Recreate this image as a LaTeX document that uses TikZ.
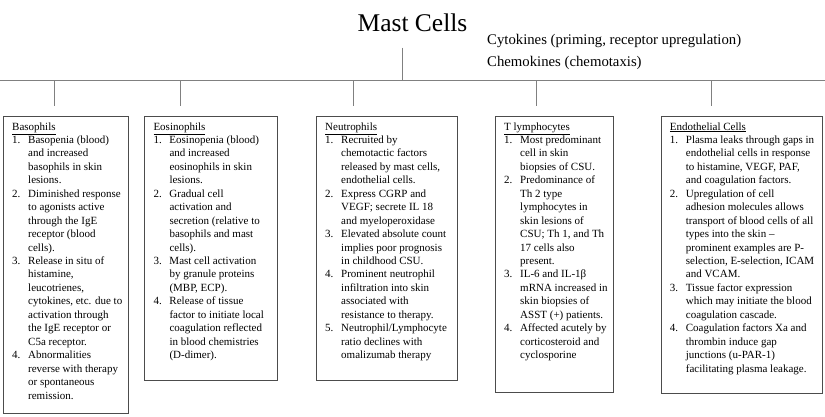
\documentclass[tikz,border=0pt]{standalone}
\usepackage{fontspec}
\setmainfont{Liberation Serif}
\newcommand\itemno[1]{\makebox[16pt][l]{#1}}
\newcommand\cont{\hspace*{16pt}}
\begin{document}
\begin{tikzpicture}[x=1pt,y=-1pt,
  box/.style={draw=black!70, line width=0.8pt, anchor=north west, inner sep=0pt},
  conn/.style={draw=black!50, line width=0.8pt},
  body/.style={anchor=north west, align=left, inner sep=0pt, font=\fontsize{11}{13.45}\selectfont},
  side/.style={anchor=base west, inner sep=0pt, font=\fontsize{14.75}{18}\selectfont}]
\useasboundingbox (0,0) rectangle (825,416);

% title and side texts
\node[anchor=base, inner sep=0pt, font=\fontsize{25.5}{30}\selectfont] (mast) at (412.5,31.7) {Mast Cells};
\node[side] (cyto) at (487,44.5) {Cytokines (priming, receptor upregulation)};
\node[side] (chemo) at (487,66.5) {Chemokines (chemotaxis)};

% boxes
\node[box, minimum width=125.3pt, minimum height=297.3pt] (b1) at (3,115.7) {};
\node[box, minimum width=132.4pt, minimum height=264.3pt] (b2) at (144.3,115.7) {};
\node[box, minimum width=140.7pt, minimum height=264.3pt] (b3) at (316,115.7) {};
\node[box, minimum width=118pt, minimum height=276.3pt] (b4) at (495,115.7) {};
\node[box, minimum width=161pt, minimum height=277.3pt] (b5) at (660.7,115.7) {};

% connectors
\coordinate (mcb) at (402.7,47.7);
\coordinate (bus) at (402.7,80.5);
\coordinate (busL) at (0,80.5);
\coordinate (busR) at (825,80.5);
\coordinate (d1) at (54.3,106);
\coordinate (d2) at (180.3,106);
\coordinate (d3) at (353.3,106);
\coordinate (d4) at (536.3,106);
\coordinate (d5) at (711,106);
\draw[conn] (mcb) -- (bus);
\draw[conn] (busL) -- (busR);
\foreach \d in {d1,d2,d3,d4,d5}{\draw[conn] (\d |- bus) -- (\d);}

% texts
\node[body] (t1) at ([xshift=9pt,yshift=-6.5pt]b1.north west) {%
\underline{Basophils}\\
\itemno{1.}Basopenia (blood)\\
\cont and increased\\
\cont basophils in skin\\
\cont lesions.\\
\itemno{2.}Diminished response\\
\cont to agonists active\\
\cont through the IgE\\
\cont receptor (blood\\
\cont cells).\\
\itemno{3.}Release in situ of\\
\cont histamine,\\
\cont leucotrienes,\\
\cont cytokines, etc. due to\\
\cont activation through\\
\cont the IgE receptor or\\
\cont C5a receptor.\\
\itemno{4.}Abnormalities\\
\cont reverse with therapy\\
\cont or spontaneous\\
\cont remission.};

\node[body] (t2) at ([xshift=9pt,yshift=-6.5pt]b2.north west) {%
\underline{Eosinophils}\\
\itemno{1.}Eosinopenia (blood)\\
\cont and increased\\
\cont eosinophils in skin\\
\cont lesions.\\
\itemno{2.}Gradual cell\\
\cont activation and\\
\cont secretion (relative to\\
\cont basophils and mast\\
\cont cells).\\
\itemno{3.}Mast cell activation\\
\cont by granule proteins\\
\cont (MBP, ECP).\\
\itemno{4.}Release of tissue\\
\cont factor to initiate local\\
\cont coagulation reflected\\
\cont in blood chemistries\\
\cont (D-dimer).};

\node[body] (t3) at ([xshift=9pt,yshift=-6.5pt]b3.north west) {%
\underline{Neutrophils}\\
\itemno{1.}Recruited by\\
\cont chemotactic factors\\
\cont released by mast cells,\\
\cont endothelial cells.\\
\itemno{2.}Express CGRP and\\
\cont VEGF; secrete IL 18\\
\cont and myeloperoxidase\\
\itemno{3.}Elevated absolute count\\
\cont implies poor prognosis\\
\cont in childhood CSU.\\
\itemno{4.}Prominent neutrophil\\
\cont infiltration into skin\\
\cont associated with\\
\cont resistance to therapy.\\
\itemno{5.}Neutrophil/Lymphocyte\\
\cont ratio declines with\\
\cont omalizumab therapy};

\node[body] (t4) at ([xshift=9pt,yshift=-6.5pt]b4.north west) {%
\underline{T lymphocytes}\\
\itemno{1.}Most predominant\\
\cont cell in skin\\
\cont biopsies of CSU.\\
\itemno{2.}Predominance of\\
\cont Th 2 type\\
\cont lymphocytes in\\
\cont skin lesions of\\
\cont CSU; Th 1, and Th\\
\cont 17 cells also\\
\cont present.\\
\itemno{3.}IL-6 and IL-1β\\
\cont mRNA increased in\\
\cont skin biopsies of\\
\cont ASST (+) patients.\\
\itemno{4.}Affected acutely by\\
\cont corticosteroid and\\
\cont cyclosporine};

\node[body] (t5) at ([xshift=9pt,yshift=-6.5pt]b5.north west) {%
\underline{Endothelial Cells}\\
\itemno{1.}Plasma leaks through gaps in\\
\cont endothelial cells in response\\
\cont to histamine, VEGF, PAF,\\
\cont and coagulation factors.\\
\itemno{2.}Upregulation of cell\\
\cont adhesion molecules allows\\
\cont transport of blood cells of all\\
\cont types into the skin –\\
\cont prominent examples are P-\\
\cont selection, E-selection, ICAM\\
\cont and VCAM.\\
\itemno{3.}Tissue factor expression\\
\cont which may initiate the blood\\
\cont coagulation cascade.\\
\itemno{4.}Coagulation factors Xa and\\
\cont thrombin induce gap\\
\cont junctions (u-PAR-1)\\
\cont facilitating plasma leakage.};
\end{tikzpicture}
\end{document}
